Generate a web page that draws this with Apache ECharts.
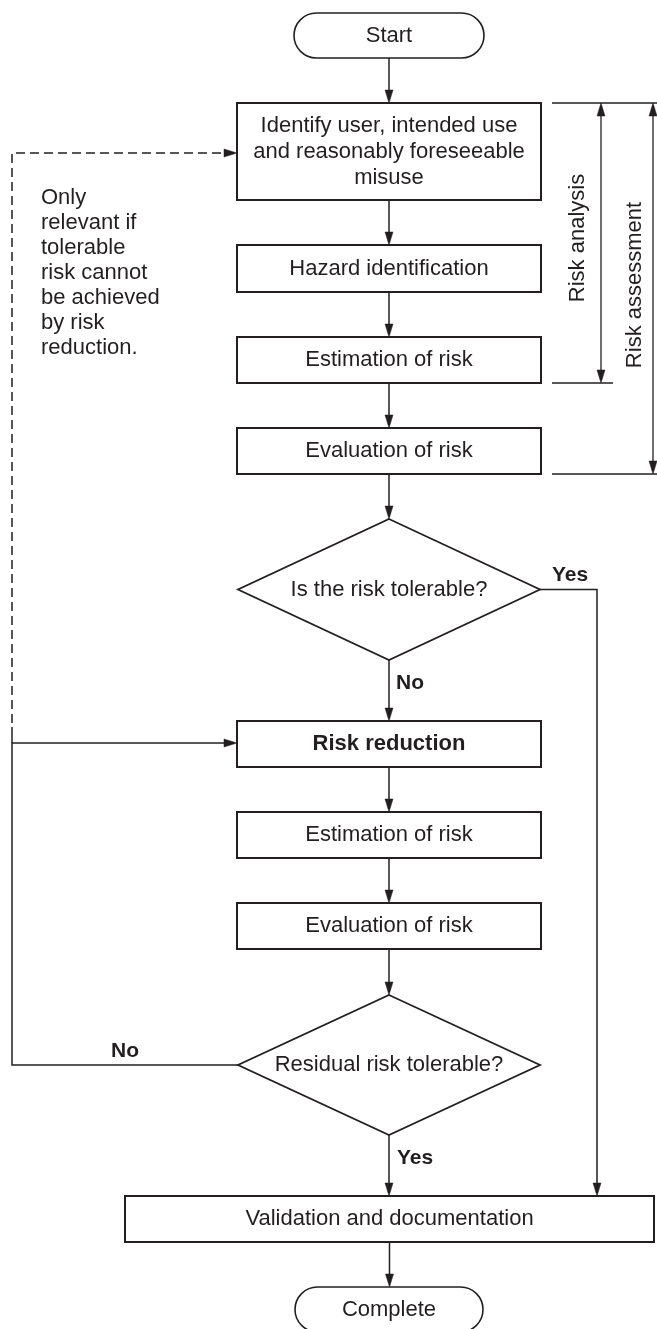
<!DOCTYPE html>
<html>
<head>
<meta charset="utf-8">
<script src="https://cdn.jsdelivr.net/npm/echarts@6/dist/echarts.min.js"></script>
<style>
html,body{margin:0;padding:0;background:#ffffff;}
#chart{width:657px;height:1329px;}
</style>
</head>
<body>
<div id="chart"></div>
<script>
// ---------------- data ----------------
const nodeLabels = [
  'Start',
  'Identify user, intended use\nand reasonably foreseeable\nmisuse',
  'Hazard identification',
  'Estimation of risk',
  'Evaluation of risk',
  'Is the risk tolerable?',
  'Risk reduction',
  'Estimation of risk',
  'Evaluation of risk',
  'Residual risk tolerable?',
  'Validation and documentation',
  'Complete'
];
const nodeKinds = ['terminal','process','process','process','process','decision',
                   'key','process','process','decision','process','terminal'];
const flowEdges = [[0,1],[1,2],[2,3],[3,4],[4,5],[5,6],[6,7],[7,8],[8,9],[9,10],[10,11]];
const branchLabels = ['Yes','No','No','Yes'];
const noteLines = ['Only','relevant if','tolerable','risk cannot','be achieved','by risk','reduction.'];
const phaseLabels = ['Risk analysis','Risk assessment'];

// ---------------- layout (diagram units) ----------------
const nodeBoxes = [
  [294,13,484,58],
  [237,103,541,200],
  [237,245,541,292],
  [237,337,541,383],
  [237,428,541,474],
  [238,519,540,660],
  [237,721,541,767],
  [237,812,541,858],
  [237,903,541,949],
  [238,995,540,1135],
  [125,1196,654,1242],
  [295,1287,483,1332]
];
const connectors = [
  {pts:[[540,589.5],[597,589.5],[597,1196]], dash:false, arrow:true},
  {pts:[[238,1065],[12,1065],[12,743],[237,743]], dash:false, arrow:true},
  {pts:[[12,743],[12,727]], dash:false, arrow:false},
  {pts:[[12,723],[12,153],[237,153]], dash:true, arrow:true}
];
const bracketLines = [[[552,103],[657,103]],[[552,383],[613,383]],[[552,474],[657,474]]];
const bracketArrows = [[601,103,383],[653,103,474]];
const branchPos = [[552,575,'left'],[396,683,'left'],[125,1051,'center'],[397,1158,'left']];
const notePos = [41,273];
const phasePos = [[578,238],[635,285]];

const INK = '#231f20';
const FONT = '"Liberation Sans", Arial, sans-serif';
const AL = 13, AW = 4;

function arrowHead(tip, from){
  const dx = tip[0]-from[0], dy = tip[1]-from[1];
  const len = Math.sqrt(dx*dx+dy*dy) || 1;
  const ux = dx/len, uy = dy/len;
  const bx = tip[0]-ux*AL, by = tip[1]-uy*AL;
  return {type:'polygon', shape:{points:[[tip[0],tip[1]],[bx-uy*AW,by+ux*AW],[bx+uy*AW,by-ux*AW]]},
          style:{fill:INK, stroke:INK, lineWidth:0.5}};
}
function shortened(tip, from){
  const dx = tip[0]-from[0], dy = tip[1]-from[1];
  const len = Math.sqrt(dx*dx+dy*dy) || 1;
  return [tip[0]-dx/len*(AL-2), tip[1]-dy/len*(AL-2)];
}

function renderNode(params, api){
  const i = api.value(0);
  const b = nodeBoxes[i];
  const p0 = api.coord([b[0], b[1]]), p1 = api.coord([b[2], b[3]]);
  const x = p0[0], y = p0[1], w = p1[0]-p0[0], h = p1[1]-p0[1];
  const cx = x + w/2, cy = y + h/2;
  const kind = nodeKinds[i];
  let shape;
  if (kind === 'terminal') {
    shape = {type:'rect', shape:{x:x, y:y, width:w, height:h, r:h/2},
             style:{fill:'#fff', stroke:INK, lineWidth:1.6}};
  } else if (kind === 'decision') {
    shape = {type:'polygon', shape:{points:[[cx,y],[x+w,cy],[cx,y+h],[x,cy]]},
             style:{fill:'#fff', stroke:INK, lineWidth:1.8}};
  } else {
    shape = {type:'rect', shape:{x:x, y:y, width:w, height:h},
             style:{fill:'#fff', stroke:INK, lineWidth:2}};
  }
  const text = {type:'text', style:{text:nodeLabels[i], x:cx, y:cy, align:'center', verticalAlign:'middle',
           font:(kind==='key' ? 'bold ' : '') + '22px ' + FONT, lineHeight:26, fill:INK}};
  return {type:'group', children:[shape, text]};
}

function renderFlow(params, api){
  const a = api.value(0), b = api.value(1);
  const ba = nodeBoxes[a], bb = nodeBoxes[b];
  const cx = (ba[0]+ba[2])/2;
  const s = api.coord([cx, ba[3]]), t = api.coord([cx, bb[1]]);
  const e = shortened(t, s);
  return {type:'group', children:[
    {type:'line', shape:{x1:s[0], y1:s[1], x2:e[0], y2:e[1]}, style:{stroke:INK, lineWidth:1.5}},
    arrowHead(t, s)
  ]};
}

function renderConnector(params, api){
  const c = connectors[api.value(0)];
  const pts = c.pts.map(p => api.coord(p));
  const n = pts.length;
  const tip = pts[n-1], prev = pts[n-2];
  const line = c.arrow ? pts.slice(0, n-1).concat([shortened(tip, prev)]) : pts;
  const children = [
    {type:'polyline', shape:{points:line},
     style:{stroke:INK, lineWidth:1.5, fill:null, lineDash:c.dash ? [9,5] : null}}
  ];
  if (c.arrow) children.push(arrowHead(tip, prev));
  return {type:'group', children:children};
}

function renderBracket(params, api){
  const children = [];
  bracketLines.forEach(l => {
    const a = api.coord(l[0]), b = api.coord(l[1]);
    children.push({type:'line', shape:{x1:a[0], y1:a[1], x2:b[0], y2:b[1]}, style:{stroke:INK, lineWidth:1.5}});
  });
  bracketArrows.forEach(ar => {
    const top = api.coord([ar[0], ar[1]]), bot = api.coord([ar[0], ar[2]]);
    const s1 = shortened(top, bot), s2 = shortened(bot, top);
    children.push({type:'line', shape:{x1:s1[0], y1:s1[1], x2:s2[0], y2:s2[1]}, style:{stroke:INK, lineWidth:1.3}});
    children.push(arrowHead(top, bot));
    children.push(arrowHead(bot, top));
  });
  return {type:'group', children:children};
}

function renderLabels(params, api){
  const children = [];
  branchLabels.forEach((t, i) => {
    const p = api.coord([branchPos[i][0], branchPos[i][1]]);
    children.push({type:'text', style:{text:t, x:p[0], y:p[1], align:branchPos[i][2], verticalAlign:'middle',
                   font:'bold 21px ' + FONT, fill:INK}});
  });
  const np = api.coord(notePos);
  children.push({type:'text', style:{text:noteLines.join('\n'), x:np[0], y:np[1], align:'left', verticalAlign:'middle',
                 font:'22px ' + FONT, lineHeight:25, fill:INK}});
  phaseLabels.forEach((t, i) => {
    const p = api.coord(phasePos[i]);
    children.push({type:'text', x:p[0], y:p[1], rotation:Math.PI/2,
                   style:{text:t, x:0, y:0, align:'center', verticalAlign:'middle', font:'22px ' + FONT, fill:INK}});
  });
  return {type:'group', children:children};
}

const chart = echarts.init(document.getElementById('chart'), null, {renderer:'canvas'});
chart.setOption({
  animation:false,
  backgroundColor:'#ffffff',
  grid:{left:0, right:0, top:0, bottom:0},
  xAxis:{type:'value', min:0, max:657, show:false},
  yAxis:{type:'value', min:0, max:1329, inverse:true, show:false},
  series:[
    {type:'custom', coordinateSystem:'cartesian2d', renderItem:renderConnector,
     data:connectors.map((c, i) => [i]), z:1},
    {type:'custom', coordinateSystem:'cartesian2d', renderItem:renderFlow,
     data:flowEdges, z:1},
    {type:'custom', coordinateSystem:'cartesian2d', renderItem:renderBracket,
     data:[[0]], z:1},
    {type:'custom', coordinateSystem:'cartesian2d', renderItem:renderNode,
     data:nodeLabels.map((l, i) => [i]), z:2},
    {type:'custom', coordinateSystem:'cartesian2d', renderItem:renderLabels,
     data:[[0]], z:3}
  ]
});
</script>
</body>
</html>
